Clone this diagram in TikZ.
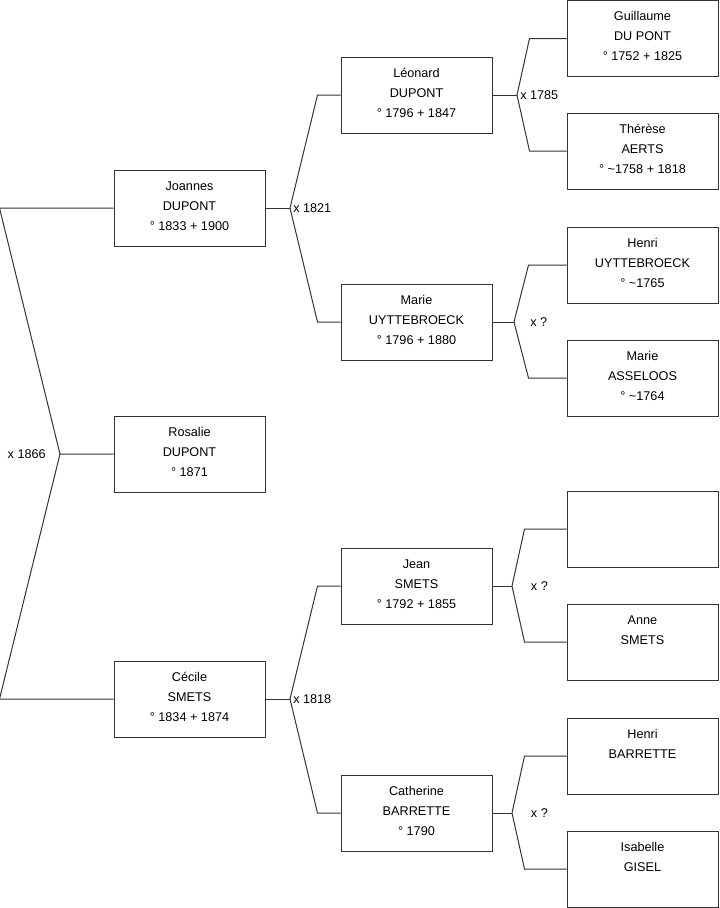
\documentclass[tikz,border=0pt]{standalone}
\usepackage{fontspec}
\setmainfont{Liberation Sans}
\usetikzlibrary{positioning}
\definecolor{treeGray}{RGB}{51,51,51}

\begin{document}
\begin{tikzpicture}[x=0.75pt, y=-0.75pt,
    box/.style={rectangle, draw=treeGray, line width=0.75pt, minimum width=113.25pt, minimum height=57pt, inner sep=0pt, text depth=3.5pt, align=center, font=\fontsize{9.5}{15}\selectfont},
    link/.style={draw=treeGray, line width=0.75pt},
    wed/.style={inner sep=0pt, font=\fontsize{9.5}{11}\selectfont}
]
\useasboundingbox (0,0) rectangle (719,908);

% generation 1
\node[box] (joannes) at (189.5,208) {Joannes\\DUPONT\\° 1833 + 1900};
\node[box] (rosalie) at (189.5,454) {Rosalie\\DUPONT\\° 1871};
\node[box] (cecile) at (189.5,699) {Cécile\\SMETS\\° 1834 + 1874};

% generation 2
\node[box] (leonard) at (416.5,95) {Léonard\\DUPONT\\° 1796 + 1847};
\node[box] (marieu) at (416.5,322) {Marie\\UYTTEBROECK\\° 1796 + 1880};
\node[box] (jean) at (416.5,586) {Jean\\SMETS\\° 1792 + 1855};
\node[box] (catherine) at (416.5,813) {Catherine\\BARRETTE\\° 1790};

% generation 3
\node[box] (guillaume) at (642.5,38.5) {Guillaume\\DU PONT\\° 1752 + 1825};
\node[box] (therese) at (642.5,151) {Thérèse\\AERTS\\° \textasciitilde1758 + 1818};
\node[box] (henriu) at (642.5,265) {Henri\\UYTTEBROECK\\° \textasciitilde1765};
\node[box] (mariea) at (642.5,378) {Marie\\ASSELOOS\\° \textasciitilde1764};
\node[box] (unknown) at (642.5,529) {};
\node[box] (anne) at (642.5,642) {Anne\\SMETS\\\mbox{}};
\node[box] (henrib) at (642.5,756) {Henri\\BARRETTE\\\mbox{}};
\node[box] (isabelle) at (642.5,869) {Isabelle\\GISEL\\\mbox{}};

% marriages
\coordinate (m1866) at (60,454);
\coordinate (m1821) at (290,208);
\coordinate (m1818) at (290,699);
\coordinate (m1785) at (517,95);
\coordinate (mmarie) at (514,322);
\coordinate (mjean) at (512,586);
\coordinate (mcath) at (512,813);

\draw[link] (joannes.west) -- ++(-114,0) -- (m1866) -- (rosalie.west);
\draw[link] (cecile.west) -- ++(-114,0) -- (m1866);

\draw[link] (joannes.east) -- (m1821);
\draw[link] (leonard.west) -- ++(-23,0) -- (m1821);
\draw[link] (marieu.west) -- ++(-23,0) -- (m1821);

\draw[link] (cecile.east) -- (m1818);
\draw[link] (jean.west) -- ++(-23,0) -- (m1818);
\draw[link] (catherine.west) -- ++(-23,0) -- (m1818);

\draw[link] (leonard.east) -- (m1785);
\draw[link] (guillaume.west) -- ++(-37,0) -- (m1785);
\draw[link] (therese.west) -- ++(-37,0) -- (m1785);

\draw[link] (marieu.east) -- (mmarie);
\draw[link] (henriu.west) -- ++(-38,0) -- (mmarie);
\draw[link] (mariea.west) -- ++(-38,0) -- (mmarie);

\draw[link] (jean.east) -- (mjean);
\draw[link] (unknown.west) -- ++(-42,0) -- (mjean);
\draw[link] (anne.west) -- ++(-42,0) -- (mjean);

\draw[link] (catherine.east) -- (mcath);
\draw[link] (henrib.west) -- ++(-42,0) -- (mcath);
\draw[link] (isabelle.west) -- ++(-42,0) -- (mcath);

\node[wed, left=10.5pt of m1866] (l1866) {x 1866};
\node[wed, right=2.25pt of m1821] (l1821) {x 1821};
\node[wed, right=2.25pt of m1818] (l1818) {x 1818};
\node[wed, right=2.25pt of m1785] (l1785) {x 1785};
\node[wed, right=12pt of mmarie] (lmarie) {x ?};
\node[wed, right=14pt of mjean] (ljean) {x ?};
\node[wed, right=14pt of mcath] (lcath) {x ?};
\end{tikzpicture}
\end{document}
